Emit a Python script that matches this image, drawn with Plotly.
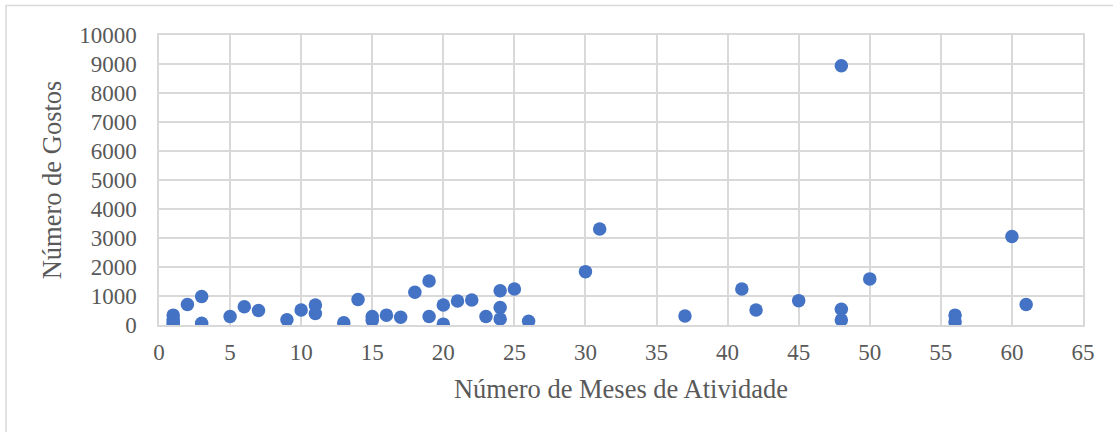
import plotly.graph_objects as go

# Meses de atividade e número de gostos por página
meses = [1, 1, 1, 1, 2, 3, 3, 5, 6, 7, 9, 10, 11, 11, 13, 14, 15, 15, 16, 17,
         18, 19, 19, 20, 20, 21, 22, 23, 24, 24, 24, 25, 26, 30, 31, 37, 41,
         42, 45, 48, 48, 48, 50, 56, 56, 60, 61]
gostos = [340, 190, 90, 20, 710, 980, 60, 290, 630, 500, 180, 520, 690, 400,
          80, 880, 290, 160, 340, 270, 1130, 1520, 290, 690, 30, 830, 860,
          290, 1180, 600, 210, 1240, 130, 1840, 3310, 310, 1240, 520, 840,
          8940, 540, 170, 1590, 340, 110, 3050, 710]

x_ticks = list(range(0, 70, 5))
y_ticks = list(range(0, 11000, 1000))

FONT = "Liberation Serif"
GRAY = "#595959"
GRID = "#d9d9d9"

fig = go.Figure(
    go.Scatter(
        x=meses, y=gostos, mode="markers",
        marker=dict(size=13.5, color="#4472c4", line=dict(width=0)),
        hoverinfo="x+y",
    )
)

fig.update_layout(
    width=1113, height=432,
    margin=dict(l=159, r=30, t=35, b=107),
    paper_bgcolor="white", plot_bgcolor="white",
    font=dict(family=FONT, color=GRAY, size=23),
    showlegend=False,
    shapes=[dict(type="rect", xref="paper", yref="paper",
                 x0=-0.1655, x1=1.05, y0=-0.45, y1=1.1017,
                 line=dict(color=GRID, width=1.5), fillcolor="rgba(0,0,0,0)",
                 layer="below")],
)

fig.update_xaxes(
    range=[0, 65], tickvals=x_ticks, ticktext=[str(v) for v in x_ticks],
    showgrid=True, gridcolor=GRID, gridwidth=1.5,
    showline=True, linecolor=GRID, linewidth=1.5, mirror=True,
    zeroline=False, ticks="", ticklabelstandoff=6,
    tickfont=dict(family=FONT, size=23, color=GRAY),
    title=dict(text="Número de Meses de Atividade",
               font=dict(family=FONT, size=26.5, color=GRAY), standoff=15),
)
fig.update_yaxes(
    range=[0, 10000], tickvals=y_ticks, ticktext=[str(v) for v in y_ticks],
    showgrid=True, gridcolor=GRID, gridwidth=1.5,
    showline=True, linecolor=GRID, linewidth=1.5, mirror=True,
    zeroline=False, ticks="", ticklabelstandoff=16,
    tickfont=dict(family=FONT, size=23, color=GRAY),
    title=dict(text="Número de Gostos",
               font=dict(family=FONT, size=26.5, color=GRAY), standoff=10),
)

fig.write_html("out.html")
